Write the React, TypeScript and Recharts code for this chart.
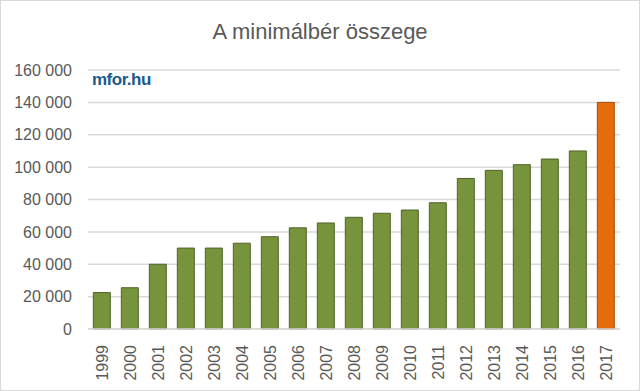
import React from 'react';
import { BarChart, Bar, XAxis, YAxis, CartesianGrid, Cell } from 'recharts';

const years = ['1999', '2000', '2001', '2002', '2003', '2004', '2005', '2006', '2007', '2008', '2009', '2010', '2011', '2012', '2013', '2014', '2015', '2016', '2017'];
const wages = [22500, 25500, 40000, 50000, 50000, 53000, 57000, 62500, 65500, 69000, 71500, 73500, 78000, 93000, 98000, 101500, 105000, 110000, 140000];
const yTicks = [0, 20000, 40000, 60000, 80000, 100000, 120000, 140000, 160000];

const data = years.map((year, i) => ({ year, value: wages[i] }));

const FONT = '"Liberation Sans", Arial, sans-serif';
const TEXT = '#595959';

const formatThousands = (v: number) => (v === 0 ? '0' : `${Math.floor(v / 1000)} ${String(v % 1000).padStart(3, '0')}`);

const YearTick = (props: any) => {
  const { x, y, payload } = props;
  return (
    <text
      x={x}
      y={y + 8}
      transform={`rotate(-90, ${x}, ${y + 8})`}
      textAnchor="end"
      dominantBaseline="central"
      fill={TEXT}
      fontSize={16}
      fontFamily={FONT}
    >
      {payload.value}
    </text>
  );
};

export default function App() {
  return (
    <div style={{ position: 'fixed', left: 0, top: 0, width: 640, height: 391, background: '#fff' }}>
      <div
        style={{
          position: 'absolute', left: 0, top: 0, width: 638, height: 389,
          border: '1px solid #d9d9d9', pointerEvents: 'none',
        }}
      />
      <div
        style={{
          position: 'absolute', left: 0, top: 19, width: 640, textAlign: 'center',
          fontFamily: FONT, fontSize: 22, color: TEXT,
        }}
      >
        A minimálbér összege
      </div>
      <div
        style={{
          position: 'absolute', left: 92, top: 70, fontFamily: '"Liberation Sans Narrow", "Liberation Sans", sans-serif',
          fontWeight: 'bold', fontSize: 17, color: '#1a5a8c', letterSpacing: -0.5,
        }}
      >
        mfor.hu
      </div>
      <div style={{ position: 'absolute', left: 0, top: 0 }}>
        <BarChart
          width={640}
          height={391}
          data={data}
          margin={{ top: 70, right: 20, bottom: 0, left: 0 }}
          barCategoryGap="19%"
        >
          <CartesianGrid vertical={false} stroke="#d9d9d9" strokeWidth={1.5} />
          <XAxis
            dataKey="year"
            height={62}
            interval={0}
            tickLine={false}
            axisLine={{ stroke: '#d9d9d9', strokeWidth: 1.5 }}
            tick={<YearTick />}
          />
          <YAxis
            width={88}
            domain={[0, 160000]}
            ticks={yTicks}
            tickFormatter={formatThousands}
            tickLine={false}
            axisLine={false}
            tickSize={6}
            tickMargin={10}
            tick={{ fill: TEXT, fontSize: 16, fontFamily: FONT }}
          />
          <Bar dataKey="value" isAnimationActive={false} strokeWidth={1}>
            {data.map((d, i) => (
              <Cell
                key={d.year}
                fill={i === data.length - 1 ? '#e46c0a' : '#77933c'}
                stroke={i === data.length - 1 ? '#a24d08' : '#4f6228'}
              />
            ))}
          </Bar>
        </BarChart>
      </div>
    </div>
  );
}
